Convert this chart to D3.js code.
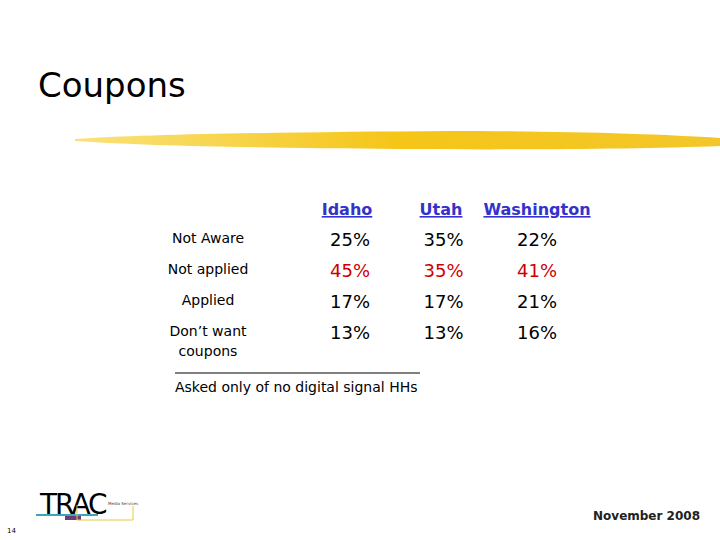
<!DOCTYPE html>
<html><head><meta charset="utf-8">
<script src="https://cdn.jsdelivr.net/npm/d3@7"></script>
<style>body{margin:0;background:#fff}</style>
</head><body><div id="chart"></div>
<script>
// table values
const states = ['Idaho', 'Utah', 'Washington'];
const rowLabels = [['Not Aware'], ['Not applied'], ['Applied'], ['Don\u2019t want', 'coupons']];
const idaho = [25, 45, 17, 13];
const utah = [35, 35, 17, 13];
const washington = [22, 41, 21, 16];
const highlightRow = 1; // shown in red

const svg = d3.select('#chart').append('svg').attr('width', 720).attr('height', 540);
const font = 'DejaVu Sans, Verdana, sans-serif';

svg.append('text').attr('x', 38).attr('y', 97).attr('font-family', font)
  .attr('font-size', 34).attr('fill', '#000').text('Coupons');

// yellow brush stroke under the title
const grad = svg.append('defs').append('linearGradient').attr('id', 'brush');
grad.append('stop').attr('offset', '0%').attr('stop-color', '#f9e27a');
grad.append('stop').attr('offset', '50%').attr('stop-color', '#f5c518');
grad.append('stop').attr('offset', '100%').attr('stop-color', '#f3c72a');
svg.append('path')
  .attr('d', 'M75,139 C150,134 300,132 450,131 C560,131 660,134 720,138 L720,146 C640,149 520,150 400,149 C260,148 150,146 75,141 Z')
  .attr('fill', 'url(#brush)');

// columns and rows
const x = d3.scalePoint().domain(states).range([370, 557]);
const y = d3.scalePoint().domain(d3.range(rowLabels.length)).range([246, 339]);
const headerX = { Idaho: 347, Utah: 441, Washington: 537 };

states.forEach(s => {
  svg.append('text').attr('x', headerX[s]).attr('y', 215).attr('text-anchor', 'middle')
    .attr('font-family', font).attr('font-weight', 'bold').attr('font-size', 16)
    .attr('fill', '#3333cc').attr('text-decoration', 'underline').text(s);
});

rowLabels.forEach((lines, i) => {
  lines.forEach((l, j) => {
    svg.append('text').attr('x', 208).attr('y', y(i) - 3 + j * 20).attr('text-anchor', 'middle')
      .attr('font-family', font).attr('font-size', 14).attr('fill', '#000').text(l);
  });
});

const cols = [idaho, utah, washington];
cols.forEach((vals, c) => {
  svg.append('g').selectAll('text').data(vals).enter().append('text')
    .attr('x', x(states[c])).attr('y', (d, i) => y(i))
    .attr('text-anchor', 'end').attr('font-family', font).attr('font-size', 18)
    .attr('fill', (d, i) => i === highlightRow ? '#cc0000' : '#000')
    .text(d => d + '%');
});

svg.append('line').attr('x1', 175).attr('x2', 420).attr('y1', 373).attr('y2', 373)
  .attr('stroke', '#000').attr('stroke-width', 1);
svg.append('text').attr('x', 175).attr('y', 392).attr('font-family', font)
  .attr('font-size', 14).attr('fill', '#000').text('Asked only of no digital signal HHs');

// footer logo
const logo = svg.append('g');
logo.append('text').attr('x', 40).attr('y', 514).attr('font-family', font)
  .attr('font-size', 28).attr('letter-spacing', -2).attr('fill', '#000').text('TRAC');
logo.append('text').attr('x', 108).attr('y', 505).attr('font-family', font)
  .attr('font-size', 4).attr('fill', '#444').text('Media Services');
logo.append('rect').attr('x', 36).attr('y', 514).attr('width', 62).attr('height', 2).attr('fill', '#3aa6b8');
logo.append('rect').attr('x', 65).attr('y', 516).attr('width', 16).attr('height', 4).attr('fill', '#6a3d7a');
logo.append('path').attr('d', 'M77,505 V520 H133 V506').attr('fill', 'none').attr('stroke', '#e8c93a').attr('stroke-width', 1);
svg.append('text').attr('x', 7).attr('y', 533).attr('font-family', font).attr('font-size', 7).text('14');
svg.append('text').attr('x', 700).attr('y', 520).attr('text-anchor', 'end').attr('font-family', font)
  .attr('font-weight', 'bold').attr('font-size', 12).attr('fill', '#222').text('November 2008');
</script></body></html>
